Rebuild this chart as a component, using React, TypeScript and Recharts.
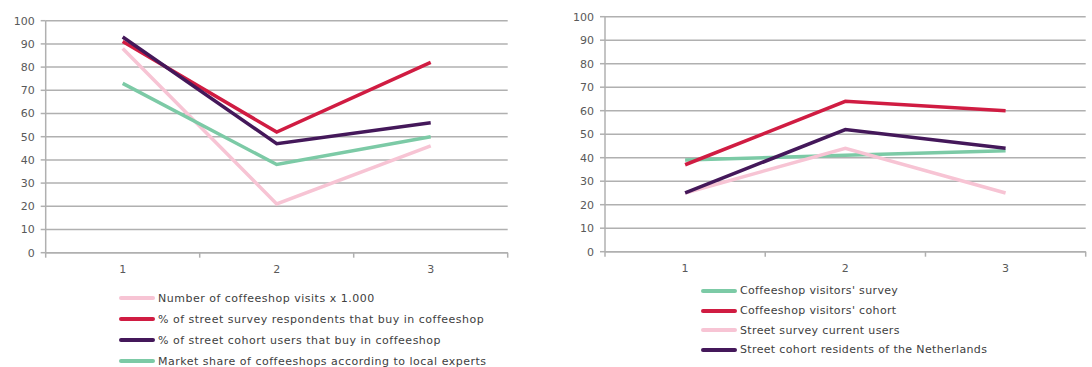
import React from 'react';
import { LineChart, Line, XAxis, YAxis, CartesianGrid, Legend } from 'recharts';

const categories = [1, 2, 3];
const yTicks = [0, 10, 20, 30, 40, 50, 60, 70, 80, 90, 100];

// Left chart series
const coffeeshopVisits = [88, 21, 46];
const streetSurveyBuy = [91, 52, 82];
const streetCohortBuy = [93, 47, 56];
const marketShareExperts = [73, 38, 50];

// Right chart series
const visitorsSurvey = [39, 41, 43];
const visitorsCohort = [37, 64, 60];
const streetSurveyCurrent = [25, 44, 25];
const streetCohortResidents = [25, 52, 44];

const PINK = '#f7c4d4';
const RED = '#d01c42';
const PURPLE = '#44185a';
const GREEN = '#7ccaa6';
const GRID = '#b0b0b0';
const FONT = '"DejaVu Sans", Verdana, sans-serif';

type Series = { key: string; name: string; color: string; values: number[] };

const leftSeries: Series[] = [
  { key: 'a', name: 'Number of coffeeshop visits x 1.000', color: PINK, values: coffeeshopVisits },
  { key: 'b', name: '% of street survey respondents that buy in coffeeshop', color: RED, values: streetSurveyBuy },
  { key: 'c', name: '% of street cohort users that buy in coffeeshop', color: PURPLE, values: streetCohortBuy },
  { key: 'd', name: 'Market share of coffeeshops according to local experts', color: GREEN, values: marketShareExperts },
];

const rightSeries: Series[] = [
  { key: 'a', name: "Coffeeshop visitors' survey", color: GREEN, values: visitorsSurvey },
  { key: 'b', name: "Coffeeshop visitors' cohort", color: RED, values: visitorsCohort },
  { key: 'c', name: 'Street survey current users', color: PINK, values: streetSurveyCurrent },
  { key: 'd', name: 'Street cohort residents of the Netherlands', color: PURPLE, values: streetCohortResidents },
];

const buildData = (series: Series[]) =>
  categories.map((c, i) => {
    const row: Record<string, number> = { x: c };
    series.forEach((s) => {
      row[s.key] = s.values[i];
    });
    return row;
  });

const XTick = (props: any) => {
  const { x, y, payload } = props;
  const v = payload.value as number;
  if (Number.isInteger(v)) {
    return (
      <text x={x} y={y + 20} textAnchor="middle" fill="#595959" fontSize={11} fontFamily={FONT}>
        {v}
      </text>
    );
  }
  return <line x1={x} x2={x} y1={y} y2={y + 5} stroke={GRID} strokeWidth={1.5} />;
};

type PanelProps = {
  series: Series[];
  left: number;
  yAxisWidth: number;
  top: number;
  right: number;
  plotBottom: number;
  legendLeft: number;
  legendTop: number;
  rowHeight: number;
  letterSpacing: number;
};

const Panel = ({ series, left, yAxisWidth, top, right, plotBottom, legendLeft, legendTop, rowHeight, letterSpacing }: PanelProps) => {
  const H = 367;
  const xAxisHeight = 20;
  const data = buildData(series);
  return (
    <div style={{ position: 'absolute', left, top: 0, width: 546, height: H }}>
      <LineChart
        width={546}
        height={H}
        data={data}
        margin={{ top, left: 0, right, bottom: H - plotBottom - xAxisHeight }}
      >
        <CartesianGrid vertical={false} stroke={GRID} strokeWidth={1.5} />
        <XAxis
          dataKey="x"
          type="number"
          domain={[0.5, 3.5]}
          ticks={[0.5, 1, 1.5, 2, 2.5, 3, 3.5]}
          interval={0}
          height={xAxisHeight}
          tickLine={false}
          tickSize={0}
          tickMargin={0}
          axisLine={{ stroke: GRID, strokeWidth: 1.5 }}
          tick={<XTick />}
        />
        <YAxis
          width={yAxisWidth}
          domain={[0, 100]}
          ticks={yTicks}
          interval={0}
          tickSize={5}
          tickMargin={6}
          tickLine={{ stroke: GRID, strokeWidth: 1.5 }}
          axisLine={{ stroke: GRID, strokeWidth: 1.5 }}
          tick={{ fill: '#595959', fontSize: 11, fontFamily: FONT }}
        />
        {series.map((s) => (
          <Line
            key={s.key}
            dataKey={s.key}
            name={s.name}
            stroke={s.color}
            strokeWidth={3.5}
            dot={false}
            activeDot={false}
            type="linear"
            isAnimationActive={false}
          />
        ))}
        <Legend
          layout="horizontal"
          verticalAlign="middle"
          align="center"
          wrapperStyle={{ position: 'absolute', left: legendLeft, top: legendTop, width: 'auto', height: 'auto' }}
          content={() => (
            <div style={{ fontFamily: FONT, fontSize: 11, color: '#404040', letterSpacing }}>
              {series.map((s) => (
                <div key={s.key} style={{ display: 'flex', alignItems: 'center', height: rowHeight, whiteSpace: 'nowrap' }}>
                  <svg width={36} height={8} style={{ marginRight: 3 }}>
                    <line x1={2} x2={34} y1={4} y2={4} stroke={s.color} strokeWidth={4} strokeLinecap="round" />
                  </svg>
                  <span>{s.name}</span>
                </div>
              ))}
            </div>
          )}
        />
      </LineChart>
    </div>
  );
};

export default function App() {
  return (
    <div style={{ position: 'absolute', left: 0, top: 0, width: 1092, height: 367, background: '#fff' }}>
      <Panel
        series={leftSeries}
        left={0}
        yAxisWidth={45.7}
        top={20.7}
        right={38.3}
        plotBottom={252.7}
        legendLeft={119}
        legendTop={287.5}
        rowHeight={21}
        letterSpacing={0.5}
      />
      <Panel
        series={rightSeries}
        left={546}
        yAxisWidth={59}
        top={16.7}
        right={6.3}
        plotBottom={251.7}
        legendLeft={155}
        legendTop={281}
        rowHeight={19.7}
        letterSpacing={0.35}
      />
    </div>
  );
}
